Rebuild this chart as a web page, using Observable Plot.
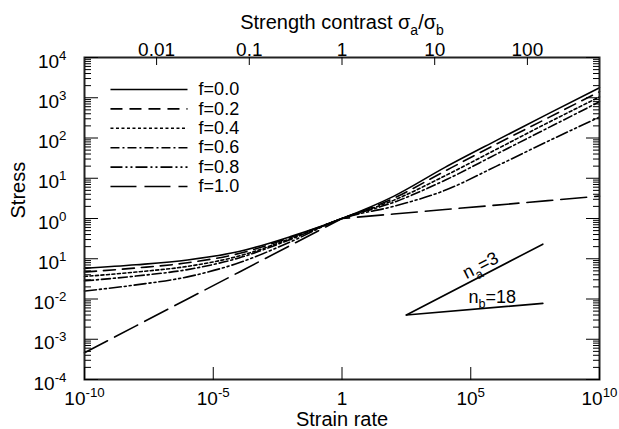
<!DOCTYPE html>
<html><head><meta charset="utf-8">
<script src="https://cdn.jsdelivr.net/npm/d3@7"></script>
<script src="https://cdn.jsdelivr.net/npm/@observablehq/plot@0.6"></script>
<style>
html,body{margin:0;padding:0;background:#fff;}
</style>
</head><body>
<div id="chart"></div>
<script>
// ---- data ----
const strainRate = [1e-10, 1e-8, 1e-6, 1e-4, 1e-2, 1, 1e2, 1e4, 1e6, 1e8, 1e10];
const seriesNames = ["f=0.0", "f=0.2", "f=0.4", "f=0.6", "f=0.8", "f=1.0"];
const stressF00 = [0.0575, 0.0708, 0.0933, 0.151, 0.355, 1, 3.55, 18.6, 87.1, 398, 1778];
const stressF02 = [0.0468, 0.0589, 0.0794, 0.135, 0.339, 1, 3.16, 15.1, 70.8, 316, 1413];
const stressF04 = [0.0363, 0.0468, 0.0646, 0.117, 0.316, 1, 2.82, 11.5, 52.5, 240, 1047];
const stressF06 = [0.0282, 0.0372, 0.0537, 0.105, 0.302, 1, 2.51, 8.91, 39.8, 178, 794];
const stressF08 = [0.0158, 0.0224, 0.0355, 0.0794, 0.263, 1, 2.0, 5.01, 20.0, 83.2, 331];
const stressF10 = [0.00046, 0.00215, 0.01, 0.0464, 0.215, 1, 1.29, 1.67, 2.15, 2.78, 3.6];

const xTicks = [1e-10, 1e-5, 1, 1e5, 1e10];
const xTickLabels = ["10^{-10}", "10^{-5}", "1", "10^{5}", "10^{10}"];
const yTicks = [1e-4, 1e-3, 1e-2, 1e-1, 1, 1e1, 1e2, 1e3, 1e4];
const yTickLabels = ["10^{-4}", "10^{-3}", "10^{-2}", "10^{1}", "10^{0}", "10^{1}", "10^{2}", "10^{3}", "10^{4}"];
const topTickStrain = [6.31e-8, 2.51e-4, 1, 3981, 1.585e7];
const topTickLabels = ["0.01", "0.1", "1", "10", "100"];

const slopeX = [316, 6.3e7];
const slopeNa = [0.004, 0.23];
const slopeNb = [0.004, 0.0078];
const slopeLabels = ["n_{a}=3", "n_{b}=18"];
const slopeLabelX = [2.4e5, 6.8e5];
const slopeLabelY = [0.068, 0.011];

// ---- styles ----
const stressSeries = [stressF00, stressF02, stressF04, stressF06, stressF08, stressF10];
const dashes = ["none", "12,7", "3,2.5", "9,3,2,3", "12,3,2,3,2,3", "26,8"];
const font = "'Liberation Sans', Arial, Helvetica, sans-serif";
const tickFont = 19;

const minorY = [];
for (let k = -4; k < 4; k++) for (let m = 2; m <= 9; m++) minorY.push(m * Math.pow(10, k));

const marks = [];
stressSeries.forEach((arr, i) => {
  const data = strainRate.map((x, j) => ({x, y: arr[j]}));
  marks.push(Plot.line(data, {x: "x", y: "y", stroke: "black", strokeWidth: 1.6,
    strokeDasharray: dashes[i], curve: i === 5 ? "linear" : "monotone-x"}));
  // legend
  const ly = Math.pow(10, 3.205 - 0.482 * i);
  marks.push(Plot.link([seriesNames[i]], {x1: 1.02e-9, x2: 1e-6, y1: ly, y2: ly,
    stroke: "black", strokeWidth: 1.6, strokeDasharray: dashes[i]}));
  marks.push(Plot.text([seriesNames[i]], {x: 2.7e-6, y: ly, text: d => d, textAnchor: "start", fontSize: 18}));
});

// slope triangle
marks.push(Plot.line(slopeX.map((x, j) => ({x, y: slopeNa[j]})), {x: "x", y: "y", stroke: "black", strokeWidth: 1.6}));
marks.push(Plot.line(slopeX.map((x, j) => ({x, y: slopeNb[j]})), {x: "x", y: "y", stroke: "black", strokeWidth: 1.6}));
marks.push(Plot.text([0], {x: slopeLabelX[0], y: slopeLabelY[0], text: () => slopeLabels[0], rotate: -27.5, fontSize: 18, fill: "black"}));
marks.push(Plot.text([1], {x: slopeLabelX[1], y: slopeLabelY[1], text: () => slopeLabels[1], fontSize: 18, fill: "black"}));

// axes
const blank = () => "";
marks.push(
  Plot.frame({stroke: "#222", strokeWidth: 2}),
  // left
  Plot.axisY(yTicks, {anchor: "right", frameAnchor: "left", tickSize: 13, tickFormat: blank, label: null}),
  Plot.axisY(minorY, {anchor: "right", frameAnchor: "left", tickSize: 6, tickFormat: blank, label: null}),
  Plot.text(yTicks, {y: d => d, frameAnchor: "left", dx: -18, dy: 4, textAnchor: "end",
    text: (d, i) => yTickLabels[i], fontSize: tickFont}),
  // right
  Plot.axisY(yTicks, {anchor: "left", frameAnchor: "right", tickSize: 13, tickFormat: blank, label: null}),
  Plot.axisY(minorY, {anchor: "left", frameAnchor: "right", tickSize: 6, tickFormat: blank, label: null}),
  // bottom
  Plot.axisX(xTicks, {anchor: "top", frameAnchor: "bottom", tickSize: 13, tickFormat: blank, label: null}),
  Plot.text(xTicks, {x: d => d, frameAnchor: "bottom", dy: 25, text: (d, i) => xTickLabels[i], fontSize: tickFont}),
  // top
  Plot.axisX(topTickStrain, {anchor: "bottom", frameAnchor: "top", tickSize: 8, tickFormat: blank, label: null}),
  Plot.text(topTickStrain, {x: d => d, frameAnchor: "top", dy: -15, text: (d, i) => topTickLabels[i], fontSize: tickFont}),
  // titles
  Plot.text(["Strength contrast σ_{a}/σ_{b}"], {frameAnchor: "top", dy: -43, text: d => d, fontSize: 20}),
  Plot.text(["Strain rate"], {frameAnchor: "bottom", dy: 46, text: d => d, fontSize: 20}),
  Plot.text(["Stress"], {frameAnchor: "left", dx: -66, rotate: -90, text: d => d, fontSize: 20})
);

const svg = Plot.plot({
  width: 619, height: 429,
  marginLeft: 84, marginRight: 20, marginTop: 57, marginBottom: 50,
  x: {type: "log", domain: [1e-10, 1e10]},
  y: {type: "log", domain: [1e-4, 1e4]},
  style: {fontFamily: font, fontSize: "18px", color: "black", background: "white", overflow: "visible"},
  marks
});
document.getElementById("chart").appendChild(svg);

// convert ^{...} and _{...} markup into real super/subscript tspans
function richText(root) {
  root.querySelectorAll("text").forEach(t => {
    const s = t.textContent;
    if (!/[\^_]\{/.test(s)) return;
    const fs = parseFloat(getComputedStyle(t).fontSize) || 18;
    while (t.firstChild) t.removeChild(t.firstChild);
    const re = /([\^_])\{([^}]*)\}/g;
    let last = 0, m, cur = 0;
    const add = (txt, target, small) => {
      if (!txt) return;
      const ts = document.createElementNS("http://www.w3.org/2000/svg", "tspan");
      ts.textContent = txt;
      const dy = target - cur;
      if (dy) ts.setAttribute("dy", dy.toFixed(2));
      if (small) ts.setAttribute("font-size", (fs * 0.7).toFixed(1));
      cur = target;
      t.appendChild(ts);
    };
    while ((m = re.exec(s))) {
      add(s.slice(last, m.index), 0, false);
      add(m[2], m[1] === "^" ? -0.42 * fs : 0.3 * fs, true);
      last = re.lastIndex;
    }
    add(s.slice(last), 0, false);
  });
}
richText(svg);
</script>
</body></html>
